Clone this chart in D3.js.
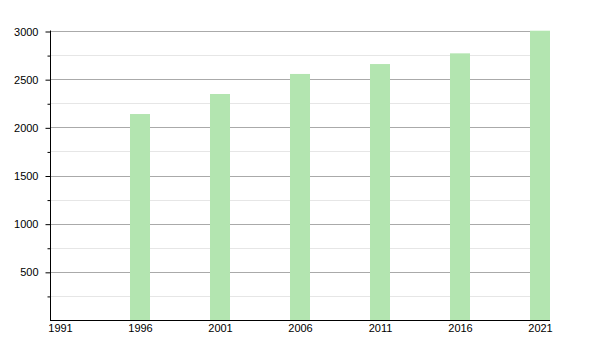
<!DOCTYPE html>
<html><head><meta charset="utf-8">
<script src="https://cdn.jsdelivr.net/npm/d3@7"></script>
<style>body{margin:0;background:#fff}svg text{font-family:"Liberation Sans",Arial,sans-serif;font-size:11px;fill:#000}</style>
</head><body><svg id="c" width="600" height="350"></svg>
<script>
const years = ["1991","1996","2001","2006","2011","2016","2021"];
const population = [null, 2138, 2346, 2554, 2657, 2768, 3003];
const yTicks = [500, 1000, 1500, 2000, 2500, 3000];
const yMinor = [250, 750, 1250, 1750, 2250, 2750];

(function () {
const svg = d3.select("#c");
const mLeft = 50, mRight = 550, mTop = 31, mBottom = 320;
const x = d3.scalePoint().domain(years).range([60, 540]);
const y = d3.scaleLinear().domain([0, 3000]).range([mBottom, mTop]);
const barW = 20;

// minor gridlines
svg.append("g").selectAll("line").data(yMinor).join("line")
  .attr("x1", mLeft).attr("x2", mRight)
  .attr("y1", d => Math.round(y(d)) + 0.5).attr("y2", d => Math.round(y(d)) + 0.5)
  .attr("stroke", "#e6e6e6").attr("stroke-width", 1);
// major gridlines
svg.append("g").selectAll("line").data(yTicks).join("line")
  .attr("x1", mLeft).attr("x2", mRight)
  .attr("y1", d => Math.round(y(d)) + 0.5).attr("y2", d => Math.round(y(d)) + 0.5)
  .attr("stroke", "#aaaaaa").attr("stroke-width", 1);

// bars
svg.append("g").selectAll("rect").data(years.map((yr, i) => ({yr, v: population[i]})).filter(d => d.v != null))
  .join("rect")
  .attr("x", d => x(d.yr) - barW / 2)
  .attr("width", barW)
  .attr("y", d => y(d.v))
  .attr("height", d => mBottom - y(d.v))
  .attr("fill", "#b3e5b0");

// y axis
const yAxis = d3.axisLeft(y).tickValues(yTicks).tickSize(5).tickPadding(7).tickFormat(d3.format("d"));
const gy = svg.append("g").attr("transform", `translate(${mLeft + 0.5},0.5)`).call(yAxis);
gy.select(".domain").attr("stroke", "#000").attr("d", `M0,${mTop - 1}V${mBottom}`);
gy.selectAll(".tick line").attr("stroke", "#000");
const yAxisMinor = d3.axisLeft(y).tickValues(yMinor).tickSize(3).tickFormat("");
const gym = svg.append("g").attr("transform", `translate(${mLeft + 0.5},0.5)`).call(yAxisMinor);
gym.select(".domain").remove();
gym.selectAll(".tick line").attr("stroke", "#000");

// x axis
const xAxis = d3.axisBottom(x).tickSize(0).tickPadding(4);
const gx = svg.append("g").attr("transform", `translate(0,${mBottom + 0.5})`).call(xAxis);
gx.select(".domain").attr("stroke", "#000").attr("stroke-width", 1.2).attr("d", `M${mLeft},0H${mRight}`);
})();
</script></body></html>
